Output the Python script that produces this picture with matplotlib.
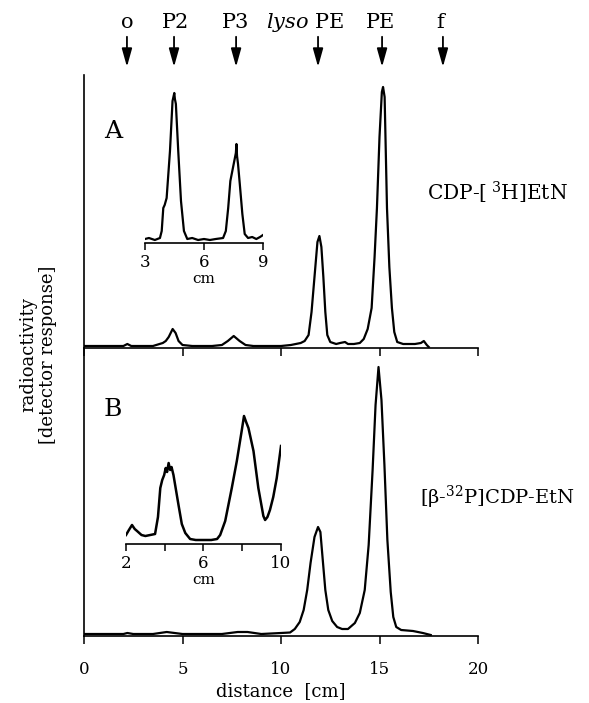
import matplotlib
matplotlib.use("Agg")
import matplotlib.pyplot as plt

plt.rcParams['font.family'] = ['DejaVu Serif']
plt.rcParams['mathtext.fontset'] = 'dejavuserif'

# ---------------- data (distance in cm, detector response in arbitrary units) ----
# Panel A main trace: CDP-[3H]EtN
a_dist = [0.0, 1.0, 2.0, 2.2, 2.4, 3.0, 3.5, 4.0, 4.15, 4.3, 4.5, 4.65, 4.8, 5.0,
          5.5, 6.0, 6.5, 7.0, 7.3, 7.6, 7.9, 8.2, 8.6, 9.0, 9.5, 10.0, 10.5, 11.0,
          11.2, 11.4, 11.55, 11.7, 11.85, 11.95, 12.05, 12.15, 12.25, 12.35, 12.5,
          12.8, 13.0, 13.25, 13.4, 13.7, 14.0, 14.2, 14.4, 14.6, 14.75, 14.87, 15.0,
          15.12, 15.18, 15.26, 15.38, 15.5, 15.63, 15.75, 15.9, 16.2, 16.8, 17.1,
          17.25, 17.4, 17.5]
a_resp = [1, 1, 1, 3, 1, 1, 1, 4, 6, 10, 18, 14, 6, 2,
          1, 1, 1, 2, 6, 11, 6, 2, 1, 1, 1, 1, 2, 4,
          6, 12, 35, 70, 105, 111, 100, 70, 35, 12, 5,
          3, 4, 5, 3, 3, 4, 8, 18, 39, 90, 139, 210,
          255, 260, 250, 139, 80, 39, 15, 5, 3, 3, 4,
          6, 2, 0]

# Panel A inset (3-9 cm)
ai_dist = [3.0, 3.2, 3.5, 3.76, 3.85, 3.93, 4.0, 4.1, 4.27, 4.4, 4.49, 4.52, 4.57,
           4.69, 4.83, 4.98, 5.15, 5.4, 5.7, 6.0, 6.3, 6.6, 6.97, 7.11, 7.23, 7.34,
           7.44, 7.56, 7.62, 7.65, 7.68, 7.73, 7.82, 7.95, 8.07, 8.24, 8.45, 8.66,
           8.85, 9.0]
ai_resp = [2, 3, 1, 3, 10, 33, 36, 43, 90, 140, 148, 142, 137,
           90, 40, 10, 2, 3, 1, 2, 1, 2, 3, 10, 33, 60,
           70, 82, 88, 97, 85, 77, 57, 27, 7, 3, 4, 2,
           4, 6]

# Panel B main trace: [beta-32P]CDP-EtN
b_dist = [0.0, 1.0, 2.0, 2.2, 2.5, 3.5, 4.2, 5.0, 6.0, 7.0, 7.8, 8.3, 9.0, 10.0,
          10.46, 10.7, 10.95, 11.15, 11.33, 11.5, 11.7, 11.88, 12.0, 12.12, 12.25,
          12.4, 12.6, 12.85, 13.1, 13.4, 13.75, 14.0, 14.25, 14.45, 14.65, 14.8,
          14.95, 15.1, 15.25, 15.4, 15.57, 15.7, 15.85, 16.1, 16.7, 17.2, 17.6]
b_resp = [1, 1, 1, 2, 1, 1, 3, 1, 1, 1, 3, 3, 1, 2,
          2.5, 6, 13, 25, 45, 72, 98, 108, 103, 75, 45,
          25, 14, 8, 6, 6, 12, 22, 45, 90, 165, 230,
          268, 235, 170, 95, 43, 18, 8, 5, 4, 2, 0]

# Panel B inset (2-10 cm)
bi_dist = [2.0, 2.15, 2.31, 2.45, 2.57, 2.8, 3.0, 3.25, 3.5, 3.65, 3.77, 3.87, 3.97,
           4.05, 4.12, 4.2, 4.28, 4.35, 4.45, 4.58, 4.71, 4.88, 5.06, 5.31, 5.6,
           6.0, 6.4, 6.7, 6.86, 7.12, 7.46, 7.72, 7.97, 8.09, 8.2, 8.32, 8.58,
           8.83, 9.09, 9.18, 9.3, 9.43, 9.6, 9.78, 10.0]
bi_resp = [7, 12, 17, 13, 11, 7, 6, 7, 8, 25, 54, 62, 67,
           74, 70, 79, 72, 75, 67, 52, 37, 18, 9, 3, 2,
           2, 2, 3, 7, 21, 54, 81, 111, 126, 120, 114, 91,
           54, 26, 22, 25, 32, 45, 64, 96]

# ---------------- labels ----------------
marker_names = ['o', 'P2', 'P3', r'$\it{lyso}$ PE', 'PE', 'f']
marker_pos = [2.18, 4.57, 7.72, 11.88, 15.13, 18.22]
marker_text_shift = [0, 1, -1, -13, -2, -3]   # px offsets of text vs arrow
x_ticks = [0, 5, 10, 15, 20]

# ---------------- figure ----------------
W, H = 589, 703
fig = plt.figure(figsize=(W / 100, H / 100), dpi=100)

def box(l, t, r, b):
    return [l / W, 1 - b / H, (r - l) / W, (b - t) / H]

axA = fig.add_axes(box(84, 75, 478, 348))
axB = fig.add_axes(box(84, 348, 478, 636), sharex=axA)

for ax in (axA, axB):
    for s in ('top', 'right'):
        ax.spines[s].set_visible(False)
    for s in ('left', 'bottom'):
        ax.spines[s].set_linewidth(1.2)
    ax.set_yticks([])
    ax.set_xlim(0, 20)
    ax.set_xticks(x_ticks)
    ax.tick_params(axis='x', direction='out', length=6, width=1.1,
                   labelsize=12, pad=12)
    ax.patch.set_alpha(0)

axA.tick_params(axis='x', labelbottom=False)
axA.set_ylim(-1, 272)
axB.set_ylim(-1, 287)

axA.plot(a_dist, a_resp, color='black', lw=1.6, solid_joinstyle='round')
axB.plot(b_dist, b_resp, color='black', lw=1.6, solid_joinstyle='round')
axB.set_xticklabels([str(t) for t in x_ticks])
axB.set_xlabel('distance  [cm]', fontsize=13, labelpad=3)

# arrows and labels above panel A
trans = axA.get_xaxis_transform()
for name, pos, sh in zip(marker_names, marker_pos, marker_text_shift):
    axA.annotate('', xy=(pos, 1.03), xycoords=trans,
                 xytext=(pos, 1.14), textcoords=trans,
                 arrowprops=dict(arrowstyle='-|>,head_length=1.0,head_width=0.28',
                                 mutation_scale=11, color='black', lw=1.3,
                                 shrinkA=0, shrinkB=0),
                 annotation_clip=False)
    axA.annotate(name, xy=(pos, 1.194), xycoords=trans,
                 xytext=(sh * 0.72, 0), textcoords='offset points',
                 ha='center', va='center', fontsize=15, annotation_clip=False)

# panel letters and tracer labels
fig.text(104 / W, 1 - 131 / H, 'A', fontsize=18, ha='left', va='center')
fig.text(104 / W, 1 - 410 / H, 'B', fontsize=18, ha='left', va='center')
fig.text(427 / W, 1 - 193 / H, r'CDP-[$^{\ 3}$H]EtN', fontsize=14.5,
         ha='left', va='center')
fig.text(420 / W, 1 - 497 / H, r'[β-$^{32}$P]CDP-EtN', fontsize=14,
         ha='left', va='center')
fig.text(38 / W, 1 - 355 / H, 'radioactivity\n[detector response]',
         rotation=90, fontsize=13, ha='center', va='center',
         multialignment='center', linespacing=1.1)

# insets
insA = fig.add_axes(box(145, 90, 263, 243))
insB = fig.add_axes(box(126, 414, 281, 544))
for ax in (insA, insB):
    for s in ('top', 'right', 'left'):
        ax.spines[s].set_visible(False)
    ax.spines['bottom'].set_linewidth(1.2)
    ax.set_yticks([])
    ax.patch.set_alpha(0)
    ax.tick_params(axis='x', direction='out', length=5, width=1.1,
                   labelsize=12, pad=3)

insA.plot(ai_dist, ai_resp, color='black', lw=1.6)
insA.set_xlim(3, 9)
insA.set_ylim(-2, 151)
insA.set_xticks([3, 6, 9])
insA.set_xlabel('cm', fontsize=11, labelpad=1)

insB.plot(bi_dist, bi_resp, color='black', lw=1.8)
insB.set_xlim(2, 10)
insB.set_ylim(-2, 128)
insB.set_xticks([2, 4, 6, 8, 10])
insB.set_xticklabels(['2', '', '6', '', '10'])
insB.set_xlabel('cm', fontsize=11, labelpad=1)

fig.savefig('out.png', dpi=100)
